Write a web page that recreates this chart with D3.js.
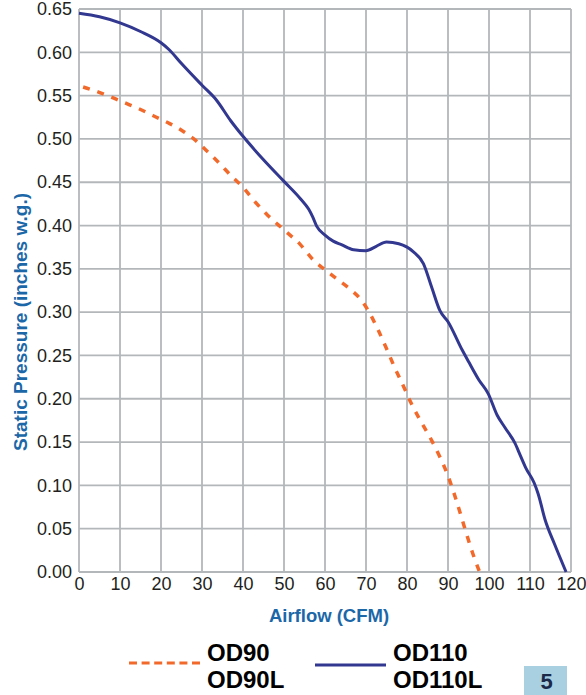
<!DOCTYPE html>
<html>
<head>
<meta charset="utf-8">
<script src="https://cdn.jsdelivr.net/npm/d3@7"></script>
<style>
  html, body { margin: 0; padding: 0; background: #fff; }
  svg { display: block; }
  text { font-family: "Liberation Sans", Arial, Helvetica, sans-serif; }
</style>
</head>
<body>
<svg id="chart" width="586" height="695"></svg>
<script>
// ---- data ----
const xTicks = [0, 10, 20, 30, 40, 50, 60, 70, 80, 90, 100, 110, 120];
const yTicks = [0, 0.05, 0.10, 0.15, 0.20, 0.25, 0.30, 0.35, 0.40, 0.45, 0.50, 0.55, 0.60, 0.65];

const od90Flow = [1, 3, 8, 11, 15, 18, 22, 25, 28, 31, 34, 37, 40, 43, 46, 50, 54, 57, 60, 63, 66, 69, 71, 73, 75, 77, 79, 81, 83, 86, 88, 90, 92, 94, 96, 97.7];
const od90Pressure = [0.560, 0.557, 0.548, 0.542, 0.534, 0.527, 0.518, 0.510, 0.500, 0.487, 0.473, 0.458, 0.444, 0.427, 0.412, 0.395, 0.378, 0.361, 0.349, 0.338, 0.327, 0.313, 0.298, 0.279, 0.258, 0.236, 0.216, 0.195, 0.177, 0.152, 0.133, 0.111, 0.083, 0.052, 0.022, 0.0];

const od110Flow = [0, 5, 10, 15, 20, 22, 25, 30, 33.5, 37, 40, 45, 50, 54, 56, 57, 58, 60, 62, 64, 67, 70, 72.5, 75, 78, 81.5, 84, 86, 88, 90, 93.5, 95, 97.5, 99.8, 102, 104, 106.3, 107.6, 109, 111, 112, 113.7, 116, 118.8];
const od110Pressure = [0.645, 0.641, 0.634, 0.624, 0.611, 0.603, 0.587, 0.562, 0.545, 0.521, 0.503, 0.476, 0.451, 0.431, 0.419, 0.410, 0.399, 0.389, 0.382, 0.378, 0.372, 0.371, 0.376, 0.381, 0.379, 0.370, 0.356, 0.329, 0.302, 0.289, 0.256, 0.243, 0.222, 0.206, 0.181, 0.166, 0.149, 0.135, 0.120, 0.103, 0.090, 0.060, 0.032, 0.0];

const legendOD90 = ["OD90", "OD90L"];
const legendOD110 = ["OD110", "OD110L"];
const pageNumber = "5";

// ---- layout ----
const svg = d3.select("#chart");
const mLeft = 79, mRight = 571, mTop = 9, mBottom = 572;
const gridColor = "#b4b7ba";
const blue = "#323890";
const orange = "#f26a2b";
const titleBlue = "#1b67a8";

const x = d3.scaleLinear().domain([0, 120]).range([mLeft, mRight]);
const y = d3.scaleLinear().domain([0, 0.65]).range([mBottom, mTop]);

svg.append("rect").attr("width", 586).attr("height", 695).attr("fill", "#fff");

// grid
const grid = svg.append("g");
grid.selectAll("line.v").data(xTicks).enter().append("line")
  .attr("class", "v")
  .attr("x1", d => x(d)).attr("x2", d => x(d))
  .attr("y1", mTop).attr("y2", mBottom)
  .attr("stroke", gridColor).attr("stroke-width", 1.8);
grid.selectAll("line.h").data(yTicks).enter().append("line")
  .attr("class", "h")
  .attr("x1", mLeft).attr("x2", mRight)
  .attr("y1", d => y(d)).attr("y2", d => y(d))
  .attr("stroke", gridColor).attr("stroke-width", 1.8);

// axes (labels only)
const xAxis = svg.append("g").attr("transform", `translate(0,${mBottom})`)
  .call(d3.axisBottom(x).tickValues(xTicks).tickSize(0).tickPadding(5).tickFormat(d3.format("d")));
xAxis.select(".domain").remove();
xAxis.selectAll("text").attr("font-size", 18).attr("fill", "#231f20")
  .attr("font-family", "Liberation Sans, Arial, sans-serif");

const yAxis = svg.append("g").attr("transform", `translate(${mLeft},0)`)
  .call(d3.axisLeft(y).tickValues(yTicks).tickSize(0).tickPadding(7).tickFormat(d3.format(".2f")));
yAxis.select(".domain").remove();
yAxis.selectAll("text").attr("font-size", 18).attr("fill", "#231f20")
  .attr("font-family", "Liberation Sans, Arial, sans-serif");

// axis titles
svg.append("text")
  .attr("x", 329).attr("y", 622)
  .attr("text-anchor", "middle")
  .attr("font-size", 18.5).attr("font-weight", "bold").attr("fill", titleBlue)
  .text("Airflow (CFM)");
svg.append("text")
  .attr("transform", "translate(26.5,322) rotate(-90)")
  .attr("text-anchor", "middle")
  .attr("font-size", 19).attr("font-weight", "bold").attr("fill", titleBlue)
  .text("Static Pressure (inches w.g.)");

// lines
const line = d3.line().x(d => x(d[0])).y(d => y(d[1])).curve(d3.curveMonotoneX);
const od90 = od90Flow.map((f, i) => [f, od90Pressure[i]]);
const od110 = od110Flow.map((f, i) => [f, od110Pressure[i]]);

svg.append("path").datum(od90).attr("d", line)
  .attr("fill", "none").attr("stroke", orange).attr("stroke-width", 3.5)
  .attr("stroke-dasharray", "7,8");
svg.append("path").datum(od110).attr("d", line)
  .attr("fill", "none").attr("stroke", blue).attr("stroke-width", 3);

// legend
svg.append("line").attr("x1", 129).attr("x2", 200).attr("y1", 663).attr("y2", 663)
  .attr("stroke", orange).attr("stroke-width", 3).attr("stroke-dasharray", "8,4.6");
svg.append("line").attr("x1", 315).attr("x2", 386).attr("y1", 665).attr("y2", 665)
  .attr("stroke", blue).attr("stroke-width", 3);

const lg1 = svg.append("text").attr("font-size", 24).attr("font-weight", "bold").attr("fill", "#000");
lg1.selectAll("tspan").data(legendOD90).enter().append("tspan")
  .attr("x", 207).attr("y", (d, i) => 661 + i * 27).text(d => d);
const lg2 = svg.append("text").attr("font-size", 24).attr("font-weight", "bold").attr("fill", "#000");
lg2.selectAll("tspan").data(legendOD110).enter().append("tspan")
  .attr("x", 393).attr("y", (d, i) => 661 + i * 27).text(d => d);

// page number box
svg.append("rect").attr("x", 524).attr("y", 666).attr("width", 43).attr("height", 29).attr("fill", "#a8d0e1");
svg.append("text").attr("x", 546.5).attr("y", 689)
  .attr("text-anchor", "middle")
  .attr("font-family", "Liberation Sans Narrow, Liberation Sans, Arial, sans-serif")
  .attr("font-size", 22).attr("font-weight", "bold").attr("fill", "#1c2a4a")
  .text(pageNumber);
</script>
</body>
</html>
